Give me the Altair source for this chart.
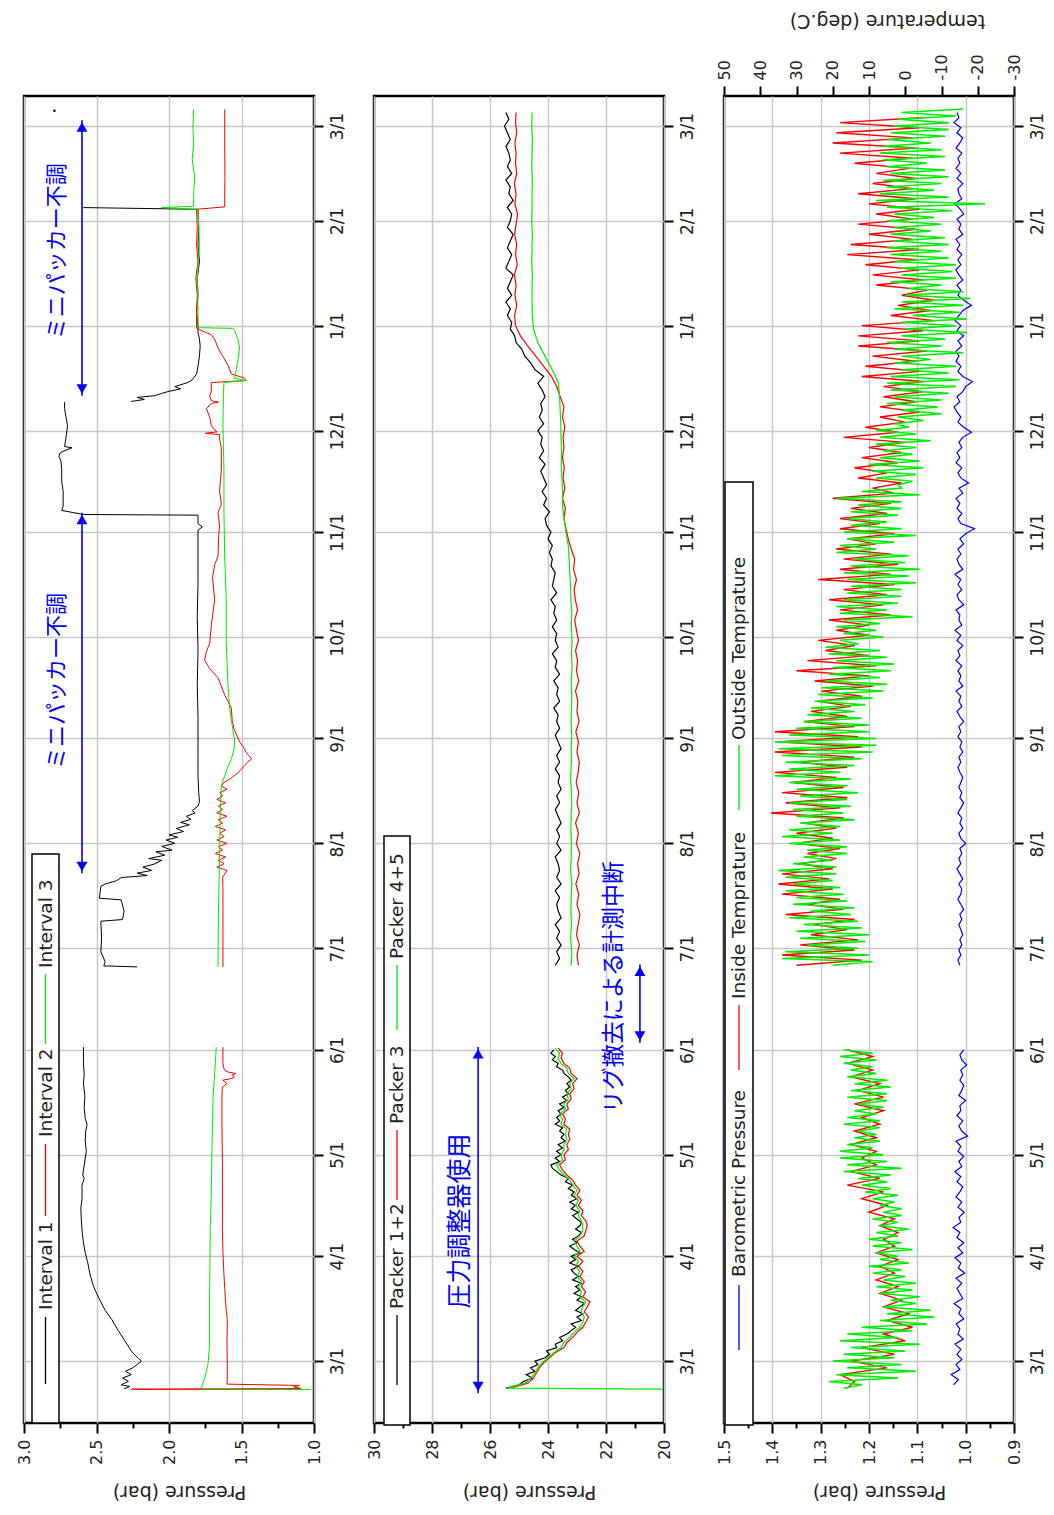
import altair as alt
import pandas as pd

# ------------------------------------------------------------------
# time base: all day offsets are counted from 2013-03-01
# ------------------------------------------------------------------
BASE = pd.Timestamp("2013-03-01")

# ================= Panel 1 : Interval pressures (bar) =================
int1_a_day = [-8.2, -7.5, -7, -6, -5, -4, -3, -2, -1, 0, 0.8, 2, 3, 5.7, 9, 12.3, 15, 18.9, 22, 25.5,
              29, 32.1, 35, 38.7, 42, 45.3, 48, 51.9, 54, 55, 58.5, 62, 65.1, 68, 70, 71.7, 75, 78.3,
              82, 84.9, 88, 91.5, 92.8]
int1_a_val = [2.31, 2.27, 2.33, 2.28, 2.32, 2.26, 2.30, 2.25, 2.22, 2.19, 2.21, 2.24, 2.26, 2.30, 2.35,
              2.395, 2.44, 2.487, 2.52, 2.544, 2.56, 2.578, 2.59, 2.60, 2.605, 2.608, 2.60, 2.60, 2.585,
              2.595, 2.583, 2.57, 2.578, 2.574, 2.565, 2.578, 2.585, 2.58, 2.59, 2.585, 2.59, 2.59, 2.59]
int1_b_day = [116.5, 116.8, 118, 121, 125, 130, 130.5, 133, 136.3, 136.8, 140.3, 141, 142, 142.9, 143.5,
              144.2, 145, 146, 146.9, 148, 148.5, 149.5, 150.5, 151, 152.1, 153, 154, 154.8, 155.5, 156.5,
              157.4, 158.5, 159.2, 160.1, 161, 162, 162.7, 164, 165.3, 168, 173, 180, 190, 200, 210, 220,
              230, 240, 245.6, 246.5, 247.5, 250, 250.2, 251.4, 252.6, 255, 257.1, 260, 263.5, 266, 267.4,
              268.5, 269.9, 270.3, 273, 276.4, 278.9, 281.5, 283.4]
int1_b_val = [2.22, 2.45, 2.44, 2.47, 2.465, 2.47, 2.32, 2.31, 2.33, 2.48, 2.47, 2.44, 2.36, 2.33, 2.15,
              2.22, 2.12, 2.18, 2.10, 2.05, 2.14, 2.03, 2.09, 1.98, 2.05, 1.96, 2.02, 1.94, 2.00, 1.90,
              1.95, 1.86, 1.92, 1.85, 1.88, 1.82, 1.84, 1.80, 1.79, 1.795, 1.80, 1.80, 1.80, 1.805, 1.80,
              1.805, 1.80, 1.80, 1.80, 1.77, 1.80, 1.80, 2.59, 2.74, 2.73, 2.73, 2.73, 2.74, 2.74, 2.745,
              2.76, 2.75, 2.67, 2.72, 2.71, 2.70, 2.71, 2.72, 2.72]
int1_c_day = [283.6, 284.2, 284.8, 285.3, 286, 286.6, 287.3, 288, 289.2, 290, 291.7, 294, 297, 300, 302,
              304, 306, 310, 315, 320, 325, 330, 335, 340.4, 340.9]
int1_c_val = [2.26, 2.17, 2.22, 2.10, 2.05, 2.00, 1.92, 1.96, 1.87, 1.84, 1.81, 1.80, 1.79, 1.785, 1.79,
              1.80, 1.80, 1.81, 1.80, 1.805, 1.79, 1.80, 1.795, 1.80, 2.59]

int2_a_day = [-8.4, -8.3, -8.1, -7.6, -7.2, -6.8, -5, 0, 5, 12.3, 15, 18.9, 25.5, 32.1, 38.7, 45, 52, 60,
              70, 78.3, 81, 82, 83, 83.5, 84, 84.5, 85, 85.5, 86.2, 88, 92.8]
int2_a_val = [1.02, 2.26, 1.09, 1.14, 1.10, 1.60, 1.598, 1.598, 1.60, 1.598, 1.605, 1.612, 1.621, 1.628,
              1.632, 1.632, 1.632, 1.632, 1.635, 1.635, 1.632, 1.60, 1.63, 1.57, 1.55, 1.565, 1.54, 1.60,
              1.62, 1.628, 1.628]
int2_b_day = [116.5, 130, 140, 143, 145, 146, 147, 148, 149, 150, 151, 152, 153, 154, 155, 156, 157, 158,
              159, 160, 161, 162, 163, 164, 165, 166, 167, 168, 169, 170, 171, 172, 173, 174, 175, 176,
              177, 178, 179, 180, 181, 182.8, 186.6, 189.2, 193, 196.9, 199.4, 202, 204.6, 207.1, 209.7,
              212.2, 217.4, 225.1, 231.5, 235.3, 237.9, 244.3, 246.9, 250.7, 253.3, 257.1, 263.5, 269.9,
              272.5, 273.8, 274.2, 274.6, 276.4, 278.9, 281.5, 283, 283.4, 283.8, 285.3, 286.6, 289.2,
              289.8, 290.5, 291.7, 294.3, 296.9, 299.4, 302, 303.3, 305.2, 310, 315, 320, 325, 330, 335,
              340.4, 341.1, 345, 350, 360, 369.9]
int2_b_val = [1.628, 1.628, 1.628, 1.63, 1.60, 1.67, 1.62, 1.66, 1.61, 1.68, 1.63, 1.66, 1.60, 1.67, 1.62,
              1.65, 1.61, 1.68, 1.63, 1.66, 1.60, 1.67, 1.63, 1.66, 1.61, 1.67, 1.63, 1.65, 1.60, 1.64,
              1.62, 1.58, 1.55, 1.52, 1.50, 1.48, 1.46, 1.43, 1.45, 1.47, 1.48, 1.51, 1.55, 1.564, 1.57,
              1.616, 1.639, 1.662, 1.719, 1.754, 1.742, 1.719, 1.708, 1.685, 1.70, 1.685, 1.662, 1.657,
              1.651, 1.662, 1.639, 1.651, 1.639, 1.639, 1.651, 1.651, 1.749, 1.67, 1.708, 1.719, 1.742,
              1.708, 1.66, 1.708, 1.719, 1.708, 1.708, 1.467, 1.479, 1.570, 1.593, 1.628, 1.662, 1.685,
              1.708, 1.81, 1.81, 1.805, 1.815, 1.80, 1.81, 1.805, 1.81, 1.616, 1.616, 1.614, 1.616, 1.616]

int3_a_day = [-8.4, -8.2, -7, -5, -1, 5, 20, 40, 50, 60, 70, 78.3, 85, 92.8]
int3_a_val = [1.02, 1.78, 1.77, 1.754, 1.731, 1.72, 1.72, 1.715, 1.708, 1.705, 1.70, 1.696, 1.685, 1.674]
int3_b_day = [116.5, 130, 150, 165, 170, 175, 178, 181, 183.8, 186.6, 193, 199.4, 212.2, 225.1, 237.9,
              250.7, 263.5, 276.4, 285, 289.2, 289.8, 290.5, 295.6, 299.4, 302, 304.6, 305.2, 305.4, 310,
              320, 330, 340.4, 340.9, 341.3, 345, 350, 355, 360, 365, 369.9]
int3_b_val = [1.662, 1.66, 1.651, 1.645, 1.639, 1.60, 1.57, 1.55, 1.548, 1.56, 1.582, 1.593, 1.605, 1.605,
              1.616, 1.621, 1.621, 1.628, 1.625, 1.621, 1.47, 1.548, 1.525, 1.513, 1.525, 1.548, 1.56,
              1.80, 1.80, 1.805, 1.79, 1.80, 2.05, 1.83, 1.83, 1.822, 1.84, 1.83, 1.835, 1.83]
int1_dot_day, int1_dot_val = [369.5], [2.79]

# ================= Panel 2 : Packer pressures (bar) =================
# regularly sampled readings: (first day, step in days, values)
pk12_a_start, pk12_a_step = -8, 1
pk12_a = [25.45, 25.0, 24.85, 24.55, 24.75, 24.45, 24.6, 24.35,
          24.45, 24.1, 23.95, 24.05, 23.7, 23.75, 23.5, 23.6, 23.35, 23.2,
          23.05, 23.2, 22.85, 23.0, 22.8, 23.05, 22.9, 22.75, 23.0, 22.85,
          23.1, 22.9, 23.05, 22.85, 23.15, 22.95, 23.1, 23.2, 22.95, 23.25,
          23.05, 23.2, 22.9, 23.1, 23.25, 23.0, 23.15, 22.95, 22.85, 23.05,
          22.9, 22.85, 23.0, 23.15, 22.95, 23.2, 23.05, 23.25, 23.0, 23.2,
          23.1, 23.3, 23.15, 23.4, 23.3, 23.55, 23.7, 23.85, 23.9, 23.6,
          23.75, 23.55, 23.7, 23.5, 23.65, 23.4, 23.55, 23.45, 23.6, 23.5,
          23.75, 23.6, 23.7, 23.55, 23.65, 23.45, 23.6, 23.35, 23.5, 23.3,
          23.4, 23.25, 23.35, 23.2, 23.3, 23.45, 23.5, 23.7, 23.65, 23.85,
          23.75, 23.9, 23.8]
pk3_a_start, pk3_a_step = -8, 1.5
pk3_a = [25.3, 24.7, 24.5, 24.4, 24.3, 24.15, 23.95, 23.75, 23.45, 23.35,
         23.15, 23.0, 22.8, 22.7, 22.6, 22.75, 22.65, 22.55, 22.8, 22.7,
         22.85, 22.75, 22.9, 22.8, 22.95, 22.8, 23.0, 22.75, 22.9, 23.0,
         22.75, 22.7, 22.65, 22.7, 22.85, 22.8, 22.95, 22.85, 23.0, 22.9,
         23.05, 23.15, 23.35, 23.5, 23.6, 23.4, 23.45, 23.3, 23.35, 23.25,
         23.3, 23.25, 23.45, 23.4, 23.5, 23.3, 23.35, 23.2, 23.25, 23.1,
         23.15, 23.0, 23.2, 23.25, 23.45, 23.55, 23.5, 23.65]
pk45_a_init_day, pk45_a_init = [-8.3], [20.05]
pk45_a_start, pk45_a_step = -8, 1.5
pk45_a = [25.4, 24.8, 24.6, 24.45, 24.35, 24.2, 24.0, 23.8, 23.55, 23.45,
          23.25, 23.1, 22.9, 22.8, 22.75, 22.85, 22.8, 22.7, 22.9, 22.85,
          22.95, 22.85, 23.0, 22.9, 23.05, 22.95, 23.1, 22.9, 23.0, 23.1,
          22.9, 22.8, 22.8, 22.85, 22.95, 22.9, 23.05, 22.95, 23.1, 23.0,
          23.15, 23.25, 23.45, 23.6, 23.7, 23.5, 23.55, 23.45, 23.45, 23.35,
          23.4, 23.35, 23.55, 23.5, 23.6, 23.4, 23.45, 23.3, 23.35, 23.2,
          23.25, 23.1, 23.3, 23.35, 23.55, 23.65, 23.6, 23.75]
pk12_b_start, pk12_b_step = 117, 2
pk12_b = [23.75, 23.6, 23.7, 23.55, 23.7, 23.6, 23.75, 23.55, 23.65, 23.7,
          23.6, 23.75, 23.55, 23.7, 23.6, 23.65, 23.75, 23.55, 23.7, 23.6,
          23.7, 23.55, 23.65, 23.75, 23.6, 23.7, 23.55, 23.65, 23.6, 23.75,
          23.6, 23.7, 23.55, 23.65, 23.75, 23.6, 23.7, 23.65, 23.8, 23.6,
          23.7, 23.65, 23.8, 23.6, 23.75, 23.7, 23.85, 23.65, 23.75, 23.7,
          23.85, 23.7, 23.8, 23.75, 23.9, 23.7, 23.85, 23.8, 23.75, 23.9,
          23.85, 23.95, 23.85, 24.0, 23.9, 24.05, 24.1, 23.95, 24.15, 24.05,
          24.2, 24.05, 24.15, 24.25, 24.1, 24.3, 24.15, 24.25, 24.2, 24.35,
          24.15, 24.3, 24.2, 24.25, 24.1, 24.2, 24.35, 24.15, 24.45, 24.6,
          24.8, 24.9, 25.1, 25.15, 25.3, 25.25, 25.4, 25.3, 25.45, 25.25,
          25.4, 25.3, 25.2, 25.45, 25.35, 25.25, 25.4, 25.3, 25.2, 25.4,
          25.3, 25.25, 25.4, 25.2, 25.35, 25.3, 25.45, 25.25, 25.4, 25.3,
          25.35, 25.45, 25.3, 25.4, 25.5, 25.35, 25.45]
pk3_b_start, pk3_b_step = 117, 3
pk3_b = [22.95, 23.0, 22.92, 23.02, 22.96, 22.9, 23.0, 22.94, 23.04, 22.93,
         22.98, 22.9, 23.02, 22.95, 23.05, 22.92, 23.0, 22.94, 23.03, 22.96,
         22.92, 23.0, 22.95, 23.04, 22.93, 23.0, 22.97, 23.05, 22.94, 23.02,
         22.98, 23.05, 22.95, 23.02, 23.08, 22.98, 23.06, 23.1, 23.02, 23.12,
         23.08, 23.2, 23.3, 23.38, 23.45, 23.4, 23.5, 23.42, 23.48, 23.44,
         23.5, 23.45, 23.48, 23.42, 23.5, 23.45, 23.58, 23.7, 23.88, 24.15,
         24.42, 24.7, 24.95, 25.12, 25.15, 25.08, 25.14, 25.1, 25.16, 25.06,
         25.12, 25.08, 25.15, 25.1, 25.05, 25.14, 25.1, 25.16, 25.08, 25.12,
         25.1, 25.14, 25.08, 25.12, 25.1]
pk45_b_start, pk45_b_step = 117, 4
pk45_b = [23.2, 23.18, 23.22, 23.19, 23.21, 23.2, 23.18, 23.22, 23.2, 23.19,
          23.21, 23.2, 23.18, 23.2, 23.22, 23.19, 23.2, 23.18, 23.2, 23.19,
          23.18, 23.2, 23.17, 23.19, 23.17, 23.2, 23.18, 23.21, 23.22, 23.25,
          23.27, 23.3, 23.38, 23.45, 23.5, 23.5, 23.52, 23.54, 23.53, 23.55,
          23.56, 23.58, 23.6, 23.64, 23.85, 24.1, 24.35, 24.5, 24.54, 24.55,
          24.55, 24.54, 24.56, 24.55, 24.54, 24.56, 24.55, 24.55, 24.54, 24.56,
          24.55, 24.54, 24.56, 24.55]

# ================= Panel 3 : barometric pressure (bar) and temperatures (deg.C) =================
baro_a_start, baro_a_step = -7, 1.5
baro_a = [1.025, 1.015, 1.030, 1.012, 1.020, 1.008, 1.018, 1.010, 1.022, 1.005,
          1.016, 1.012, 1.020, 1.004, 1.014, 1.010, 1.024, 1.006, 1.012, 1.018,
          1.008, 1.020, 1.002, 1.015, 1.010, 1.022, 1.006, 1.016, 1.004, 1.018,
          1.012, 1.026, 1.010, 1.014, 1.003, 1.016, 1.008, 1.020, 1.012, 1.006,
          1.018, 1.010, 1.022, 1.008, 1.014, 1.004, 1.016, 1.010, 1.020, 0.996,
          1.008, 1.014, 1.006, 1.018, 1.010, 1.012, 1.000, 1.014, 1.008, 1.004,
          1.012, 1.006, 1.010, 0.998, 1.008, 1.012, 1.004]
baro_b_start, baro_b_step = 117, 1.5
baro_b = [1.012, 1.016, 1.010, 1.014, 1.008, 1.012, 1.006, 1.010, 1.014, 1.008,
          1.012, 1.004, 1.010, 1.016, 1.010, 1.008, 1.014, 1.006, 1.012, 1.018,
          1.010, 1.014, 1.008, 1.012, 1.000, 1.010, 1.014, 1.006, 1.012, 1.008,
          1.016, 1.010, 1.004, 1.012, 1.008, 1.014, 1.010, 1.006, 1.012, 1.016,
          1.010, 1.014, 1.006, 1.012, 1.008, 1.016, 1.010, 1.014, 1.004, 1.012,
          1.018, 1.008, 1.014, 1.010, 1.020, 1.006, 1.014, 1.010, 1.016, 1.008,
          1.020, 1.012, 1.016, 1.006, 1.018, 1.010, 1.022, 1.008, 1.014, 1.012,
          1.020, 1.004, 1.014, 1.018, 1.008, 1.016, 1.010, 1.022, 1.006, 1.014,
          1.018, 1.010, 1.016, 1.004, 1.012, 1.000, 0.982, 1.010, 1.016, 1.008,
          1.018, 1.012, 1.020, 1.006, 1.014, 0.994, 1.010, 1.016, 1.008, 1.020,
          1.012, 1.018, 1.008, 1.014, 1.006, 0.988, 1.004, 1.016, 1.010, 1.018,
          1.024, 1.012, 1.018, 1.006, 1.000, 0.986, 1.006, 1.016, 1.010, 1.020,
          1.014, 1.020, 1.008, 1.016, 1.004, 1.018, 1.010, 1.022, 1.014, 1.006,
          0.988, 1.004, 1.016, 1.010, 1.018, 1.006, 1.014, 1.020, 1.010, 1.016,
          1.008, 1.018, 1.012, 1.020, 1.006, 1.014, 1.010, 1.018, 1.004, 1.012,
          1.022, 1.008, 1.014, 1.016, 1.006, 1.018, 1.010, 1.020, 1.012, 1.016,
          1.008, 1.020, 1.012, 1.006, 1.018, 1.010, 1.024, 1.014, 1.018]
tin_a_start, tin_a_step = -8, 2
tin_a = [16, 14, 18, 5, 15, 3, 12, 0, 6, -2, 5, -1, 6, 1, 7, 2, 8, 3, 7, 2,
         8, 3, 6, 2, 7, 3, 10, 5, 12, 6, 16, 7, 15, 8, 12, 8, 15, 8, 14, 7,
         12, 6, 14, 6, 13, 7, 15, 9, 16, 9, 16]
tin_b_start, tin_b_step = 117, 1.5
tin_b = [30, 12, 34, 14, 29, 13, 26, 16, 25, 14, 33, 17, 27, 18, 34, 20, 35, 21, 34, 20,
         29, 19, 27, 18, 30, 20, 30, 19, 28, 17, 37, 18, 33, 16, 34, 17, 31, 19, 36, 16,
         29, 14, 36, 12, 35, 13, 36, 14, 28, 16, 26, 15, 24, 12, 23, 9, 25, 10, 30, 8,
         27, 10, 22, 14, 24, 10, 19, 10, 21, 4, 18, 6, 21, 5, 17, 3, 24, 4, 18, 2,
         17, 4, 19, 8, 16, 3, 18, 7, 18, 5, 15, 4, 20, 3, 9, 1, 13, 5, 14, 2,
         12, 1, 10, 0, 17, 2, 11, 0, 7, -4, 7, -3, 6, -5, 6, -5, 12, -4, 11, -3,
         9, -6, 13, -4, 13, -5, 12, -8, 4, -7, 2, -8, 1, -6, 8, -5, 9, -4, 11, -3,
         16, -4, 15, -2, 10, -3, 13, -2, 8, -4, 10, -3, 13, -2, 9, -3, 8, -1, 14, -2,
         18, -3, 20, -2, 19, -4, 18, -5]
tout_a_start, tout_a_step = -8, 1
tout_a = [17, 12, 21, 2, 19, -3, 16, 1, 20, 3, 17, 0, 15, -4, 18, 2, 16, -2, 12, -6,
          7, -8, 5, -7, 6, -3, 4, -4, 7, -2, 8, -3, 6, 0, 9, 1, 10, -1, 7, 2,
          8, -2, 9, 1, 10, 2, 8, -1, 7, 2, 9, 1, 6, 1, 7, 3, 9, 2, 11, 4,
          12, 5, 13, 4, 17, 1, 16, 5, 18, 6, 18, 9, 16, 7, 14, 8, 13, 7, 17, 7,
          16, 8, 14, 6, 13, 5, 16, 5, 15, 4, 14, 5, 16, 8, 15, 9, 17, 8, 18, 9,
          17]
tout_b_start, tout_b_step = 117, 1
tout_b = [20, 9, 34, 10, 33, 13, 27, 11, 29, 10, 30, 12, 28, 13, 32, 15, 26, 14, 31, 16,
          30, 17, 33, 18, 31, 20, 33, 19, 35, 19, 31, 20, 28, 16, 27, 16, 32, 18, 34, 20,
          32, 18, 29, 14, 30, 17, 31, 15, 32, 16, 29, 13, 30, 16, 32, 15, 36, 18, 32, 14,
          33, 12, 34, 9, 35, 8, 36, 8, 32, 10, 30, 10, 28, 12, 27, 14, 26, 11, 25, 9,
          24, 6, 23, 5, 22, 7, 21, 4, 20, 3, 19, 5, 21, 7, 22, 13, 18, 6, 17, 8,
          19, 7, 17, -2, 18, 5, 19, 2, 17, 1, 16, 1, 15, -3, 16, -1, 17, -4, 15, 0,
          14, -1, 19, 8, 18, 3, 16, -3, 17, 1, 15, 5, 16, 2, 15, 1, 13, 1, 19, -4,
          12, 1, 2, -2, 8, -3, 9, -5, 10, -4, 7, -2, 6, -3, 8, -7, 7, -3, 8, -1,
          3, -5, 2, -10, 1, -9, 5, -10, 3, -12, 4, -14, 5, -15, 4, -12, 1, -14, 3, -7,
          1, -16, 3, -10, 5, -11, 1, -17, 0, -14, 1, -17, -2, -15, 3, -16, 1, -18, 0, -16,
          -1, -10, 4, -14, 1, -13, 1, -14, 3, -12, 4, -10, 5, -12, 3, -11, 4, -7, 3, -10,
          5, -8, 3, -13, 5, -22, 8, -12, 7, -8, 5, -10, 6, -12, 4, -11, 5, -6, 6, -11,
          7, -10, 6, -7, 5, -11, 4, -12, 3, -12, 2, -14, 1, -16]

# ================= annotations =================
arrow1_p, arrow1_d0, arrow1_d1 = [2.60, 2.60], [285.3, 144.2], [366.7, 250.7]
arrow2_p, arrow2_d0, arrow2_d1 = [26.41, 20.83], [-9.5, 94.1], [92.8, 117.2]
note1_p, note1_day, note1_txt = [2.77, 2.77], [328, 201], ["ミニパッカー不調", "ミニパッカー不調"]
note2_p, note2_day, note2_txt = [27.03, 21.72], [41.4, 110.5], ["圧力調整器使用", "リグ撤去による計測中断"]
note2_size = [25, 23]

# ------------------------------------------------------------------
FONT = "DejaVu Sans"
JP = "Noto Sans CJK JP"
GRID = "#c8c8c8"
BLUE = "#0000ff"
W, H = 290, 1327

Y_DOMAIN = [alt.DateTime(year=2013, month=2, date=10, hours=17),
            alt.DateTime(year=2014, month=3, date=9, hours=21)]
MONTHS = ([alt.DateTime(year=2013, month=m, date=1) for m in range(3, 13)]
          + [alt.DateTime(year=2014, month=m, date=1) for m in (1, 2, 3)])


def to_dates(days):
    return [BASE + pd.Timedelta(days=float(d)) for d in days]


def reg(start, step, vals):
    return [start + step * i for i in range(len(vals))]


def frame(parts):
    rows = []
    for seg, (days, vals) in enumerate(parts):
        for d, v in zip(days, vals):
            rows.append({"date": BASE + pd.Timedelta(days=float(d)), "v": v, "seg": seg})
    df = pd.DataFrame(rows)
    df["idx"] = range(len(df))
    return df


Y_AXIS = alt.Axis(orient="right", values=MONTHS, format="%-m/%-d", labelAngle=270,
                  labelAlign="center", labelBaseline="top", labelPadding=6, tickSize=9,
                  tickWidth=2, tickColor="black", domain=False, grid=True, gridColor=GRID,
                  gridWidth=1.5, labelFont=FONT, labelFontSize=17, labelColor="#222",
                  labelOverlap=False, labelFlush=False, title=None)


def yenc(field="date"):
    return alt.Y(f"{field}:T", scale=alt.Scale(domain=Y_DOMAIN, nice=False), axis=Y_AXIS)


def p_axis(values, test, fmt):
    return alt.Axis(
        values=values, orient="bottom",
        labelExpr=f"({test}) ? format(datum.value, '{fmt}') : ''",
        tickSize={"condition": {"test": test, "value": 10}, "value": 5},
        tickWidth=2, tickColor="black",
        grid=True, gridColor=GRID, gridWidth=1.5,
        gridOpacity={"condition": {"test": test, "value": 1}, "value": 0},
        domain=False, labelAngle=270, labelAlign="right", labelBaseline="middle",
        labelPadding=6, labelFont=FONT, labelFontSize=16, labelColor="#222",
        labelOverlap=False, labelFlush=False,
        title="Pressure (bar)", titleAngle=180, titleFont=FONT, titleFontSize=19,
        titleFontWeight="normal", titleColor="#222", titleX=W / 2 + 10, titleY=68,
        titleAlign="center", titleBaseline="middle")


P1_TICKS = [3.0, 2.75, 2.5, 2.25, 2.0, 1.75, 1.5, 1.25, 1.0]
P2_TICKS = [30, 29, 28, 27, 26, 25, 24, 23, 22, 21, 20]
P3_TICKS = [1.5, 1.45, 1.4, 1.35, 1.3, 1.25, 1.2, 1.15, 1.1, 1.05, 1.0, 0.95, 0.9]
T1 = "abs(datum.value*2 - round(datum.value*2)) < 0.01"
T2 = "datum.value % 2 == 0"
T3 = "abs(datum.value*10 - round(datum.value*10)) < 0.01"


def xenc1(field="v"):
    return alt.X(f"{field}:Q", scale=alt.Scale(domain=[1.0, 3.0], reverse=True, nice=False, zero=False),
                 axis=p_axis(P1_TICKS, T1, ".1f"))


def xenc2(field="v"):
    return alt.X(f"{field}:Q", scale=alt.Scale(domain=[20, 30], reverse=True, nice=False, zero=False),
                 axis=p_axis(P2_TICKS, T2, "d"))


def xenc3(field="v"):
    return alt.X(f"{field}:Q", scale=alt.Scale(domain=[0.9, 1.5], reverse=True, nice=False, zero=False),
                 axis=p_axis(P3_TICKS, T3, ".1f"))


T_AXIS = alt.Axis(orient="top", values=[50, 40, 30, 20, 10, 0, -10, -20, -30],
                  labelExpr="'' + datum.value", tickSize=10, tickWidth=2, tickColor="black",
                  domain=False, grid=False, labelAngle=270, labelAlign="left",
                  labelBaseline="middle", labelPadding=6, labelFont=FONT, labelFontSize=16,
                  labelColor="#222", labelFlush=False, labelOverlap=False,
                  title="temperature (deg.C)", titleAngle=180, titleFont=FONT, titleFontSize=19,
                  titleFontWeight="normal", titleColor="#222", titleX=W / 2 + 18, titleY=-76,
                  titleAlign="center", titleBaseline="middle")


def xenc_t(field="v"):
    return alt.X(f"{field}:Q", scale=alt.Scale(domain=[-30, 50], reverse=True, nice=False, zero=False),
                 axis=T_AXIS)


def line(df, color, xenc, width=1.0):
    return alt.Chart(df).mark_line(color=color, strokeWidth=width).encode(
        x=xenc(), y=yenc(), detail="seg:N", order=alt.Order("idx:Q"))


ONE = pd.DataFrame({"k": [0]})


def legend(box, col, items):
    x0, x1, y0, y1 = box
    layers = [alt.Chart(ONE).mark_rect(fill="white", stroke="black", strokeWidth=1.5).encode(
        x=alt.value(x0), x2=alt.value(x1), y=alt.value(y0), y2=alt.value(y1))]
    for color, la, lb, txt, ty in items:
        layers.append(alt.Chart(ONE).mark_rule(color=color, strokeWidth=1.3).encode(
            x=alt.value(col), y=alt.value(la), y2=alt.value(lb)))
        layers.append(alt.Chart(ONE).mark_text(
            text=txt, angle=270, align="left", baseline="middle", font=FONT, fontSize=18.5,
            color="#222").encode(x=alt.value(col), y=alt.value(ty)))
    return layers


def arrows(p, d0, d1, xenc):
    df = pd.DataFrame({"p": p, "d0": to_dates(d0), "d1": to_dates(d1),
                       "h0": to_dates([d + 2.0 for d in d0]), "h1": to_dates([d - 2.0 for d in d1])})
    base = alt.Chart(df)
    return [
        base.mark_rule(color=BLUE, strokeWidth=1.6).encode(x=xenc("p"), y=yenc("d0"), y2="d1:T"),
        base.mark_point(shape="triangle-up", filled=True, size=120, color=BLUE, opacity=1).encode(
            x=xenc("p"), y=yenc("h1")),
        base.mark_point(shape="triangle-down", filled=True, size=120, color=BLUE, opacity=1).encode(
            x=xenc("p"), y=yenc("h0")),
    ]


def notes(p, day, txt, size, xenc):
    out = []
    for pi, di, ti, si in zip(p, day, txt, size):
        df = pd.DataFrame({"p": [pi], "date": to_dates([di]), "t": [ti]})
        out.append(alt.Chart(df).mark_text(angle=270, align="center", baseline="middle", font=JP,
                                           fontSize=si, color=BLUE).encode(
            x=xenc("p"), y=yenc("date"), text="t:N"))
    return out


# ---------------- panel 1 ----------------
df_i1 = frame([(int1_a_day, int1_a_val), (int1_b_day, int1_b_val), (int1_c_day, int1_c_val)])
df_i2 = frame([(int2_a_day, int2_a_val), (int2_b_day, int2_b_val)])
df_i3 = frame([(int3_a_day, int3_a_val), (int3_b_day, int3_b_val)])
df_dot = frame([(int1_dot_day, int1_dot_val)])

panel1 = alt.layer(
    line(df_i1, "#000000", xenc1),
    line(df_i2, "#ff0000", xenc1),
    line(df_i3, "#00ee00", xenc1),
    alt.Chart(df_dot).mark_point(shape="circle", filled=True, size=6, color="black", opacity=1).encode(
        x=xenc1(), y=yenc()),
    *arrows(arrow1_p, arrow1_d0, arrow1_d1, xenc1),
    *notes(note1_p, note1_day, note1_txt, [22, 22], xenc1),
    *legend((8, 35, 758, 1327), 21.5, [
        ("#000000", 1221, 1288, "Interval 1", 1214),
        ("#ff0000", 1048, 1120, "Interval 2", 1041),
        ("#00ee00", 878, 948, "Interval 3", 872),
    ]),
).properties(width=W, height=H)

# ---------------- panel 2 ----------------
df_p12 = frame([(reg(pk12_a_start, pk12_a_step, pk12_a), pk12_a),
                (reg(pk12_b_start, pk12_b_step, pk12_b), pk12_b)])
df_p3 = frame([(reg(pk3_a_start, pk3_a_step, pk3_a), pk3_a),
               (reg(pk3_b_start, pk3_b_step, pk3_b), pk3_b)])
df_p45 = frame([(pk45_a_init_day + reg(pk45_a_start, pk45_a_step, pk45_a), pk45_a_init + pk45_a),
                (reg(pk45_b_start, pk45_b_step, pk45_b), pk45_b)])

panel2 = alt.layer(
    line(df_p12, "#000000", xenc2, 1.2),
    line(df_p3, "#ff0000", xenc2, 1.2),
    line(df_p45, "#00ee00", xenc2, 1.2),
    *arrows(arrow2_p, arrow2_d0, arrow2_d1, xenc2),
    *notes(note2_p, note2_day, note2_txt, note2_size, xenc2),
    *legend((10, 36, 740, 1329), 23, [
        ("#000000", 1219, 1289, "Packer 1+2", 1213),
        ("#ff0000", 1034, 1104, "Packer 3", 1028),
        ("#00ee00", 869, 934, "Packer 4+5", 863),
    ]),
).properties(width=W, height=H)

# ---------------- panel 3 ----------------
df_baro = frame([(reg(baro_a_start, baro_a_step, baro_a), baro_a),
                 (reg(baro_b_start, baro_b_step, baro_b), baro_b)])
df_tin = frame([(reg(tin_a_start, tin_a_step, tin_a), tin_a),
                (reg(tin_b_start, tin_b_step, tin_b), tin_b)])
df_tout = frame([(reg(tout_a_start, tout_a_step, tout_a), tout_a),
                 (reg(tout_b_start, tout_b_step, tout_b), tout_b)])

temps = alt.layer(
    line(df_tin, "#ff0000", xenc_t, 1.4),
    line(df_tout, "#00ee00", xenc_t, 1.5),
)

panel3 = alt.layer(
    line(df_baro, BLUE, xenc3, 1.2),
    temps,
    *legend((1, 29, 386, 1329), 15, [
        (BLUE, 1189, 1254, "Barometric Pressure", 1181),
        ("#ff0000", 909, 974, "Inside Temprature", 903),
        ("#00ee00", 649, 714, "Outside Temprature", 644),
    ]),
).resolve_scale(x="independent", y="shared").properties(width=W, height=H)

chart = alt.hconcat(panel1, panel2, panel3, spacing=60, bounds="flush").properties(
    padding={"left": 14, "top": 8, "right": 0, "bottom": 0}
).configure_view(stroke="black", strokeWidth=2.5)

chart.save("out.html", embed_options={"renderer": "svg", "actions": False})
